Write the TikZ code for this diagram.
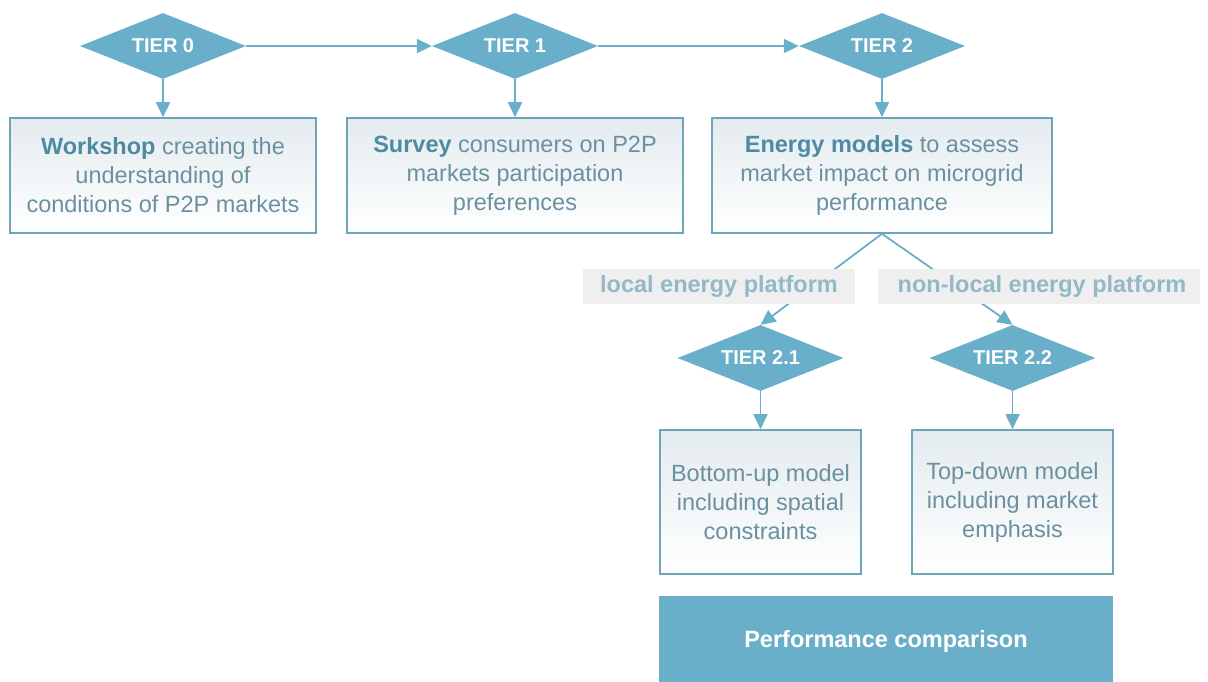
\documentclass[tikz,border=0pt]{standalone}
\usepackage{fontspec}
\setmainfont{Liberation Sans}
\usetikzlibrary{shapes.geometric,arrows.meta}
\definecolor{tierblue}{HTML}{6AAFCA}
\definecolor{boxline}{HTML}{6FA5B8}
\definecolor{boxtop}{HTML}{E3EBEF}
\definecolor{boldtxt}{HTML}{4E8BA3}
\definecolor{regtxt}{HTML}{6B919F}
\definecolor{lblbg}{HTML}{EFEFEF}
\definecolor{lbltxt}{HTML}{93B8C6}
\tikzset{
  tier/.style={diamond, aspect=2.5, fill=tierblue, draw=none, inner sep=0pt,
    minimum width=166pt, minimum height=66pt, text=white,
    font=\fontsize{20}{24}\selectfont\bfseries},
  infobox/.style={rectangle, draw=boxline, line width=1.6pt, top color=boxtop, bottom color=white,
    align=center, inner sep=0pt, text=regtxt, font=\fontsize{23.5}{29}\selectfont},
  platlabel/.style={rectangle, fill=lblbg, text=lbltxt, inner sep=0pt,
    minimum height=35pt, font=\fontsize{23.5}{28}\selectfont\bfseries},
  flow/.style={draw=tierblue, line width=1.8pt, -{Triangle[length=15pt,width=14pt]}},
  perfbox/.style={rectangle, fill=tierblue, text=white, inner sep=0pt,
    font=\fontsize{23.5}{28}\selectfont\bfseries}
}
\newcommand{\bw}[1]{{\bfseries\color{boldtxt}#1}}
\begin{document}
\begin{tikzpicture}[x=1pt,y=-1pt]
\useasboundingbox (0,0) rectangle (1208,681);
% diamonds
\node[tier] (t0) at (163,46) {TIER 0};
\node[tier] (t1) at (515,46) {TIER 1};
\node[tier] (t2) at (882,46) {TIER 2};
\node[tier] (t21) at (760.5,358) {TIER 2.1};
\node[tier] (t22) at (1012.5,358) {TIER 2.2};
% boxes
\node[infobox, minimum width=306pt, minimum height=115pt] (b0) at (163,175.5)
  {\bw{Workshop} creating the\\understanding of\\conditions of P2P markets};
\node[infobox, minimum width=336pt, minimum height=115pt] (b1) at (515,175.5)
  {\bw{Survey} consumers on P2P\\markets participation\\preferences};
\node[infobox, minimum width=340pt, minimum height=115pt] (b2) at (882,175.5)
  {\bw{Energy models} to assess\\market impact on microgrid\\performance};
\node[infobox, minimum width=201pt, minimum height=144pt] (b21) at (760.5,502)
  {Bottom-up model\\including spatial\\constraints};
\node[infobox, minimum width=201pt, minimum height=144pt] (b22) at (1012.5,502)
  {Top-down model\\including market\\emphasis};
\node[perfbox, minimum width=454pt, minimum height=90pt] (perf) at (886,641)
  {Performance comparison};
% connectors
\draw[flow] (t0.east) -- (t1.west);
\draw[flow] (t1.east) -- (t2.west);
\draw[flow] (t0.south) -- (b0.north);
\draw[flow] (t1.south) -- (b1.north);
\draw[flow] (t2.south) -- (b2.north);
\draw[flow] (b2.south) -- (t21.north);
\draw[flow] (b2.south) -- (t22.north);
\draw[flow] (t21.south) -- (b21.north);
\draw[flow] (t22.south) -- (b22.north);
% labels on top of the branch lines
\node[platlabel, minimum width=272pt] (l1) at (719,286) {local energy platform};
\node[platlabel, minimum width=322pt] (l2) at (1039,286) {\hspace*{6pt}non-local energy platform};
\end{tikzpicture}
\end{document}
